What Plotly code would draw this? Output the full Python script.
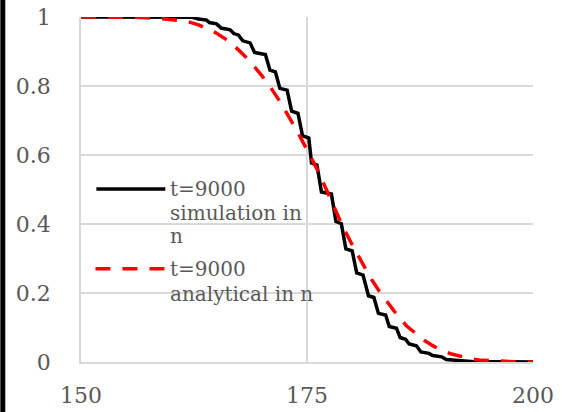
import plotly.graph_objects as go

# Simulated fraction versus n (staircase shape), t = 9000
sim_n = [150, 162.3, 163.0, 163.9, 164.2, 165.0, 165.5, 166.5, 166.9, 167.4,
         167.9, 168.7, 169.2, 170.4, 170.9, 171.5, 172.0, 172.8, 173.3, 174.0,
         174.5, 175.2, 175.5, 176.1, 176.6, 177.7, 178.2, 178.8, 179.3, 180.0,
         180.5, 181.2, 181.8, 182.4, 182.9, 183.7, 184.1, 184.9, 185.3, 185.9,
         186.3, 187.1, 187.6, 188.5, 188.9, 189.9, 190.4, 191.8, 193.5, 200]
sim_y = [1.0, 0.999, 0.994, 0.991, 0.984, 0.980, 0.968, 0.963, 0.952, 0.948,
         0.931, 0.925, 0.897, 0.891, 0.846, 0.841, 0.793, 0.788, 0.727, 0.721,
         0.656, 0.649, 0.577, 0.571, 0.493, 0.487, 0.407, 0.401, 0.328, 0.322,
         0.258, 0.252, 0.192, 0.187, 0.141, 0.136, 0.103, 0.098, 0.071, 0.066,
         0.052, 0.047, 0.029, 0.025, 0.019, 0.015, 0.007, 0.004, 0.001, 0.0]

# Analytical fraction versus n, t = 9000
ana_n = [150, 152, 154, 156, 158, 160, 161, 162, 163, 164, 165, 166, 167, 168,
         169, 170, 171, 172, 173, 174, 175, 176, 177, 178, 179, 180, 181, 182,
         183, 184, 185, 186, 187, 188, 189, 190, 191, 192, 193, 194, 195, 196,
         197, 198, 200]
ana_y = [1.0, 1.0, 1.0, 0.999, 0.997, 0.993, 0.990, 0.985, 0.977, 0.966,
         0.953, 0.936, 0.915, 0.890, 0.862, 0.830, 0.795, 0.755, 0.712, 0.665,
         0.615, 0.565, 0.508, 0.450, 0.390, 0.340, 0.290, 0.245, 0.205, 0.168,
         0.135, 0.105, 0.082, 0.062, 0.046, 0.033, 0.023, 0.016, 0.010, 0.006,
         0.004, 0.002, 0.001, 0.0005, 0.0]

x_ticks = [150, 175, 200]
y_ticks = [0, 0.2, 0.4, 0.6, 0.8, 1]
y_tick_text = ["0", "0.2", "0.4", "0.6", "0.8", "1"]

sim_label = ["t=9000", "simulation in", "n"]
ana_label = ["t=9000", "analytical in n"]

TXT = "#595959"
GRID = "#d9d9d9"
FONT = "DejaVu Serif"

fig = go.Figure()
fig.add_trace(go.Scatter(x=sim_n, y=sim_y, mode="lines",
                         line=dict(color="#000000", width=3.5),
                         name=" ".join(sim_label), showlegend=False))
fig.add_trace(go.Scatter(x=ana_n, y=ana_y, mode="lines",
                         line=dict(color="#ff0000", width=3.5, dash="15px,12px"),
                         name=" ".join(ana_label), showlegend=False))

# Hand-drawn legend inside the plot area (paper coordinates)
shapes = [
    dict(type="line", xref="paper", yref="paper", x0=0.034, x1=0.1865,
         y0=0.5015, y1=0.5015, line=dict(color="#000000", width=3.5)),
    dict(type="line", xref="paper", yref="paper", x0=0.032, x1=0.1865,
         y0=0.27, y1=0.27, line=dict(color="#ff0000", width=3.5, dash="15px,12px")),
    # dark strip along the left edge of the image
    dict(type="rect", xref="paper", yref="paper", x0=-0.1785, x1=-0.1675,
         y0=-0.2, y1=1.1, line=dict(width=0), fillcolor="#000000", layer="above"),
]

annotations = []
for txt, y in zip(sim_label, [0.5015, 0.432, 0.366]):
    annotations.append(dict(text=txt, xref="paper", yref="paper", x=0.193, y=y,
                            xanchor="left", yanchor="middle", showarrow=False,
                            font=dict(family=FONT, size=20, color=TXT)))
for txt, y in zip(ana_label, [0.27, 0.198]):
    annotations.append(dict(text=txt, xref="paper", yref="paper", x=0.193, y=y,
                            xanchor="left", yanchor="middle", showarrow=False,
                            font=dict(family=FONT, size=20, color=TXT)))

fig.update_layout(
    width=569, height=412, autosize=False,
    margin=dict(l=81, r=36, t=17, b=50),
    paper_bgcolor="white", plot_bgcolor="white",
    font=dict(family=FONT, size=22, color=TXT),
    shapes=shapes, annotations=annotations,
    showlegend=False,
)
fig.update_xaxes(range=[150, 200], tickvals=x_ticks, showgrid=True,
                 gridcolor=GRID, gridwidth=1.5, zeroline=False,
                 showline=True, linecolor=GRID, linewidth=1.5,
                 ticks="", ticklabelstandoff=13, automargin=False,
                 tickfont=dict(family=FONT, size=22, color=TXT))
fig.update_yaxes(range=[0, 1], tickvals=y_ticks, ticktext=y_tick_text,
                 showgrid=True, gridcolor=GRID, gridwidth=1.5, zeroline=False,
                 showline=True, linecolor=GRID, linewidth=1.5,
                 ticks="", ticklabelstandoff=24, automargin=False,
                 tickfont=dict(family=FONT, size=22, color=TXT))

fig.write_html("out.html")
